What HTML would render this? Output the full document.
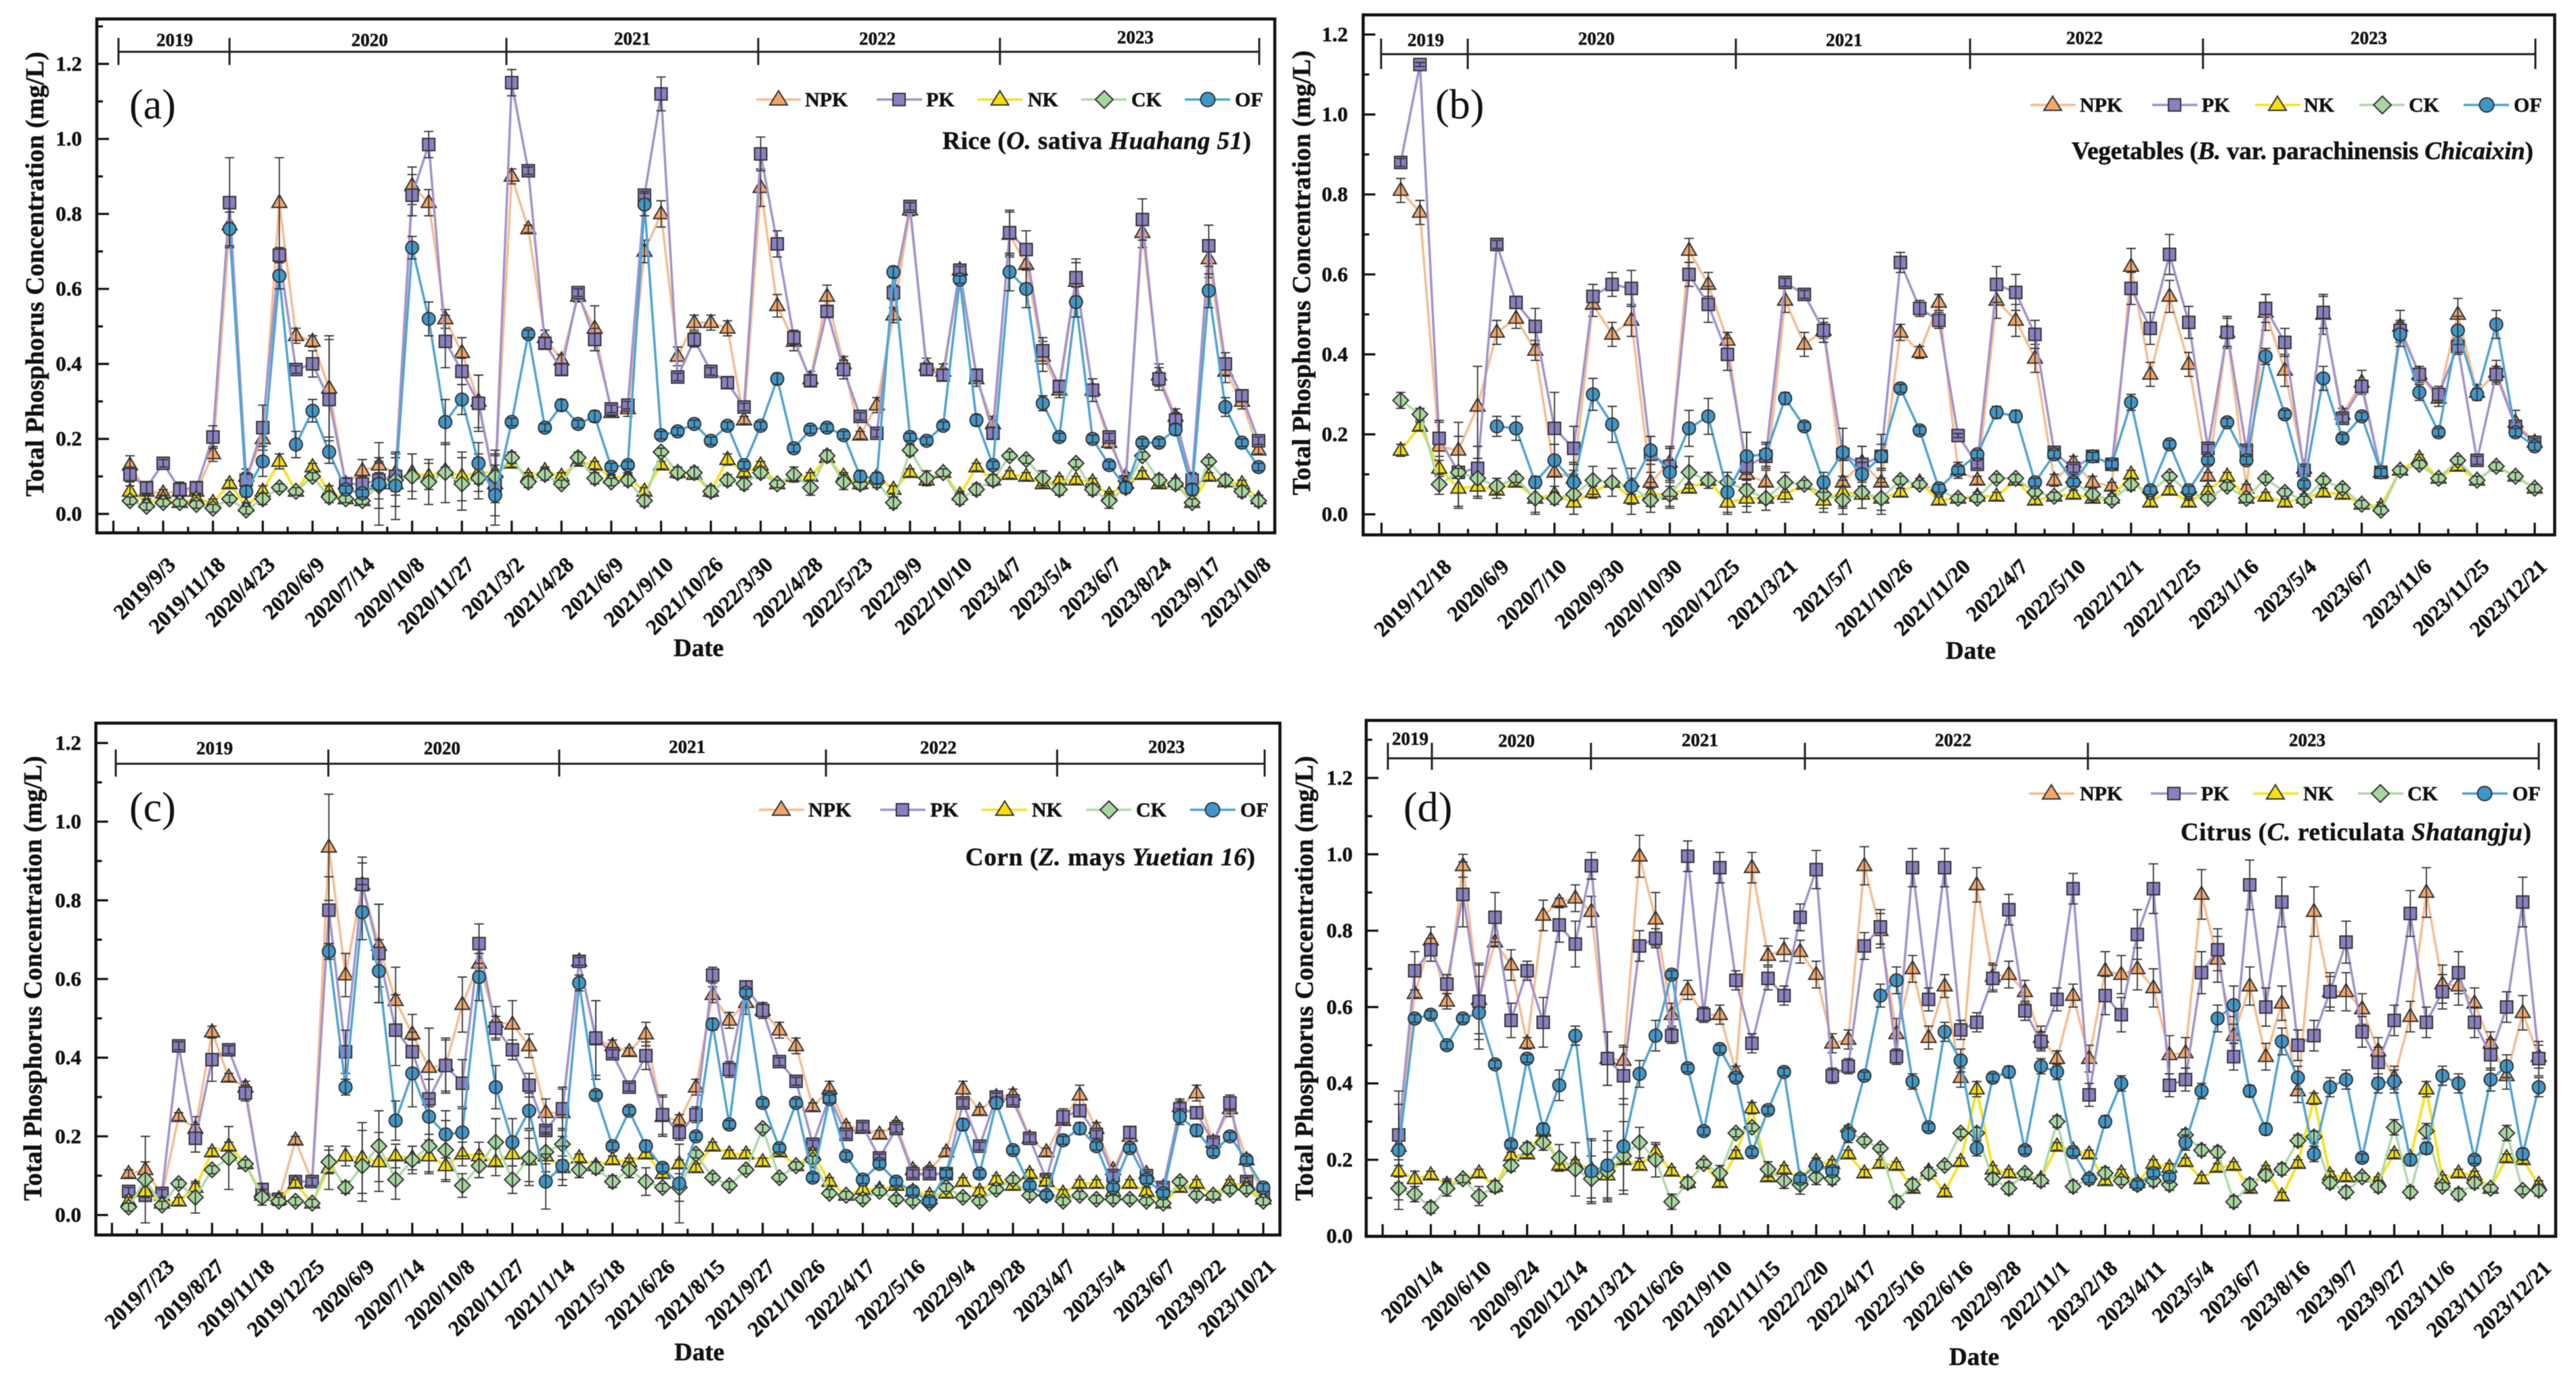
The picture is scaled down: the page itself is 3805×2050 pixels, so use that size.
<!DOCTYPE html>
<html lang="en">
<head>
<meta charset="utf-8">
<title>Total Phosphorus Concentration by Crop</title>
<style>
html,body{margin:0;padding:0;background:#fff;}
svg{display:block;filter:blur(.6px);}
text{font-family:"Liberation Serif",serif;font-weight:bold;fill:#111;stroke:#111;stroke-width:.5px;}
.ytitle{font-size:38px;text-anchor:middle;}
.xtitle{font-size:37px;text-anchor:middle;}
.year{font-size:27px;text-anchor:middle;dominant-baseline:middle;}
.leg{font-size:30px;}
.sub{font-size:37px;}
.plabel{font-size:62px;font-weight:normal;stroke:none;}
.br{stroke:#222;stroke-width:3;fill:none;}
.frame{fill:none;stroke:#111;stroke-width:4.5;}
.mk{stroke:#333;stroke-width:2;}
</style>
</head>
<body>
<svg id="fig" xmlns="http://www.w3.org/2000/svg" width="3805" height="2050" viewBox="0 0 3805 2050">
<rect width="3805" height="2050" fill="#fff"/>

<!-- PANEL A -->
<g id="panel-a">
<rect class="frame" x="143" y="28" width="1740" height="759"/>
<text class="ytitle" transform="translate(64 405) rotate(-90)" textLength="657">Total Phosphorus Concentration (mg/L)</text>
<text class="xtitle" x="1032" y="969">Date</text>
<text class="plabel" x="191" y="175">(a)</text>
<text class="sub" x="1392" y="220" textLength="456">Rice (<tspan font-style="italic">O.</tspan> sativa <tspan font-style="italic">Huahang 51</tspan>)</text>
<g>
<path class="br" d="M175 76.5H1860M175 56V96M339 56V96M748 56V96M1120 56V96M1477 56V96M1860 56V96"/>
<text class="year" x="258" y="62">2019</text>
<text class="year" x="546" y="62">2020</text>
<text class="year" x="934" y="60">2021</text>
<text class="year" x="1296" y="60">2022</text>
<text class="year" x="1677" y="58">2023</text>
</g>
<g id="plot-a"></g>
<g>
<g><path d="M1117 147H1183" stroke="#f6bd90" stroke-width="3.5"/><polygon class="mk" transform="translate(1150 147)" points="0,-13 13,8 -13,8" fill="#f3a668"/><text class="leg" x="1189" y="157">NPK</text></g>
<g><path d="M1295 147H1362" stroke="#a193cd" stroke-width="3.5"/><rect class="mk" x="1319" y="138" width="18" height="18" fill="#8a7fc1"/><text class="leg" x="1368" y="157">PK</text></g>
<g><path d="M1444 147H1510" stroke="#f7e22a" stroke-width="3.5"/><polygon class="mk" transform="translate(1477 147)" points="0,-13 13,8 -13,8" fill="#f6df0a"/><text class="leg" x="1518" y="157">NK</text></g>
<g><path d="M1597 147H1664" stroke="#aedaa8" stroke-width="3.5"/><polygon class="mk" transform="translate(1631 147)" points="0,-13 13,0 0,13 -13,0" fill="#a7d79f"/><text class="leg" x="1671" y="157">CK</text></g>
<g><path d="M1750 147H1817" stroke="#50a4d4" stroke-width="3.5"/><circle class="mk" cx="1784" cy="147" r="10.5" fill="#3f97c9"/><text class="leg" x="1824" y="157">OF</text></g>
</g>
</g>

<!-- PANEL B -->
<g id="panel-b">
<rect class="frame" x="2013.5" y="22" width="1760" height="768"/>
<text class="ytitle" transform="translate(1935 403) rotate(-90)" textLength="657">Total Phosphorus Concentration (mg/L)</text>
<text class="xtitle" x="2911" y="973">Date</text>
<text class="plabel" x="2120" y="175">(b)</text>
<text class="sub" x="3060" y="235" textLength="682">Vegetables (<tspan font-style="italic">B.</tspan> var. parachinensis <tspan font-style="italic">Chicaixin</tspan>)</text>
<g>
<path class="br" d="M2040 80H3745M2040 57V102M2168 57V102M2564 57V102M2910 57V102M3254 57V102M3745 57V102"/>
<text class="year" x="2106" y="62">2019</text>
<text class="year" x="2358" y="60">2020</text>
<text class="year" x="2724" y="62">2021</text>
<text class="year" x="3079" y="59">2022</text>
<text class="year" x="3499" y="59">2023</text>
</g>
<g id="plot-b"></g>
<g>
<g><path d="M2999 155H3066" stroke="#f6bd90" stroke-width="3.5"/><polygon class="mk" transform="translate(3032 155)" points="0,-13 13,8 -13,8" fill="#f3a668"/><text class="leg" x="3072" y="165">NPK</text></g>
<g><path d="M3179 155H3246" stroke="#a193cd" stroke-width="3.5"/><rect class="mk" x="3203" y="146" width="18" height="18" fill="#8a7fc1"/><text class="leg" x="3252" y="165">PK</text></g>
<g><path d="M3331 155H3398" stroke="#f7e22a" stroke-width="3.5"/><polygon class="mk" transform="translate(3364 155)" points="0,-13 13,8 -13,8" fill="#f6df0a"/><text class="leg" x="3403" y="165">NK</text></g>
<g><path d="M3485 155H3552" stroke="#aedaa8" stroke-width="3.5"/><polygon class="mk" transform="translate(3519 155)" points="0,-13 13,0 0,13 -13,0" fill="#a7d79f"/><text class="leg" x="3558" y="165">CK</text></g>
<g><path d="M3639 155H3706" stroke="#50a4d4" stroke-width="3.5"/><circle class="mk" cx="3673" cy="155" r="10.5" fill="#3f97c9"/><text class="leg" x="3713" y="165">OF</text></g>
</g>
</g>

<!-- PANEL C -->
<g id="panel-c">
<rect class="frame" x="141.6" y="1068" width="1749" height="756"/>
<text class="ytitle" transform="translate(61 1445) rotate(-90)" textLength="657">Total Phosphorus Concentration (mg/L)</text>
<text class="xtitle" x="1033" y="2009">Date</text>
<text class="plabel" x="191" y="1213">(c)</text>
<text class="sub" x="1426" y="1278" textLength="428">Corn (<tspan font-style="italic">Z.</tspan> mays <tspan font-style="italic">Yuetian 16</tspan>)</text>
<g>
<path class="br" d="M171 1128H1868M171 1107V1147M485 1107V1147M826 1107V1147M1220 1107V1147M1561.5 1107V1147M1868 1107V1147"/>
<text class="year" x="317" y="1108">2019</text>
<text class="year" x="653" y="1108">2020</text>
<text class="year" x="1015" y="1106">2021</text>
<text class="year" x="1386" y="1107">2022</text>
<text class="year" x="1723" y="1106">2023</text>
</g>
<g id="plot-c"></g>
<g>
<g><path d="M1121 1196H1188" stroke="#f6bd90" stroke-width="3.5"/><polygon class="mk" transform="translate(1154 1196)" points="0,-13 13,8 -13,8" fill="#f3a668"/><text class="leg" x="1194" y="1206">NPK</text></g>
<g><path d="M1300 1196H1367" stroke="#a193cd" stroke-width="3.5"/><rect class="mk" x="1324" y="1187" width="18" height="18" fill="#8a7fc1"/><text class="leg" x="1374" y="1206">PK</text></g>
<g><path d="M1450 1196H1517" stroke="#f7e22a" stroke-width="3.5"/><polygon class="mk" transform="translate(1484 1196)" points="0,-13 13,8 -13,8" fill="#f6df0a"/><text class="leg" x="1524" y="1206">NK</text></g>
<g><path d="M1605 1196H1671" stroke="#aedaa8" stroke-width="3.5"/><polygon class="mk" transform="translate(1638 1196)" points="0,-13 13,0 0,13 -13,0" fill="#a7d79f"/><text class="leg" x="1678" y="1206">CK</text></g>
<g><path d="M1758 1196H1825" stroke="#50a4d4" stroke-width="3.5"/><circle class="mk" cx="1791" cy="1196" r="10.5" fill="#3f97c9"/><text class="leg" x="1832" y="1206">OF</text></g>
</g>
</g>

<!-- PANEL D -->
<g id="panel-d">
<rect class="frame" x="2018" y="1064" width="1757" height="762"/>
<text class="ytitle" transform="translate(1939 1445) rotate(-90)" textLength="657">Total Phosphorus Concentration (mg/L)</text>
<text class="xtitle" x="2916" y="2016">Date</text>
<text class="plabel" x="2073" y="1213">(d)</text>
<text class="sub" x="3221" y="1241" textLength="518">Citrus (<tspan font-style="italic">C.</tspan> reticulata <tspan font-style="italic">Shatangju</tspan>)</text>
<g>
<path class="br" d="M2050 1120H3750M2050 1097V1137M2115 1097V1137M2350 1097V1137M2666 1097V1137M3084 1097V1137M3750 1097V1137"/>
<text class="year" x="2083" y="1094">2019</text>
<text class="year" x="2240" y="1097">2020</text>
<text class="year" x="2511" y="1096">2021</text>
<text class="year" x="2885" y="1096">2022</text>
<text class="year" x="3408" y="1096">2023</text>
</g>
<g id="plot-d"></g>
<g>
<g><path d="M2997 1172H3064" stroke="#f6bd90" stroke-width="3.5"/><polygon class="mk" transform="translate(3030 1172)" points="0,-13 13,8 -13,8" fill="#f3a668"/><text class="leg" x="3072" y="1182">NPK</text></g>
<g><path d="M3177 1172H3245" stroke="#a193cd" stroke-width="3.5"/><rect class="mk" x="3202" y="1163" width="18" height="18" fill="#8a7fc1"/><text class="leg" x="3251" y="1182">PK</text></g>
<g><path d="M3328 1172H3395" stroke="#f7e22a" stroke-width="3.5"/><polygon class="mk" transform="translate(3361 1172)" points="0,-13 13,8 -13,8" fill="#f6df0a"/><text class="leg" x="3402" y="1182">NK</text></g>
<g><path d="M3483 1172H3550" stroke="#aedaa8" stroke-width="3.5"/><polygon class="mk" transform="translate(3516 1172)" points="0,-13 13,0 0,13 -13,0" fill="#a7d79f"/><text class="leg" x="3556" y="1182">CK</text></g>
<g><path d="M3637 1172H3704" stroke="#50a4d4" stroke-width="3.5"/><circle class="mk" cx="3670" cy="1172" r="10.5" fill="#3f97c9"/><text class="leg" x="3711" y="1182">OF</text></g>
</g>
</g>
</svg>

<script>
// ---------- Panel (a) Rice ----------
const aDates = ["2019/9/3","2019/11/18","2020/4/23","2020/6/9","2020/7/14","2020/10/8","2020/11/27","2021/3/2","2021/4/28","2021/6/9","2021/9/10","2021/10/26","2022/3/30","2022/4/28","2022/5/23","2022/9/9","2022/10/10","2023/4/7","2023/5/4","2023/6/7","2023/8/24","2023/9/17","2023/10/8"];
const aNPK = [.13,.06,.055,.06,.06,.16,.77,.10,.20,.83,.475,.46,.335,.08,.115,.13,.11,.875,.83,.52,.43,.30,.08,.90,.76,.47,.41,.58,.495,.27,.28,.70,.80,.42,.51,.51,.495,.25,.87,.555,.46,.36,.58,.40,.21,.29,.53,.81,.395,.38,.65,.36,.24,.745,.665,.42,.33,.62,.33,.19,.10,.75,.37,.26,.08,.68,.38,.30,.17];
const aPK = [.105,.07,.135,.065,.07,.205,.83,.09,.23,.69,.385,.40,.305,.08,.08,.09,.10,.85,.985,.46,.38,.295,.075,1.15,.915,.455,.385,.59,.465,.28,.29,.85,1.12,.365,.465,.38,.35,.285,.96,.72,.47,.355,.54,.385,.26,.215,.59,.82,.385,.37,.65,.37,.215,.75,.705,.435,.34,.63,.33,.205,.085,.785,.36,.25,.09,.715,.40,.315,.195];
const aNK = [.06,.03,.04,.03,.04,.03,.08,.02,.06,.14,.06,.125,.06,.04,.035,.08,.08,.11,.10,.115,.10,.11,.11,.135,.10,.115,.10,.14,.13,.095,.10,.06,.13,.11,.105,.06,.145,.11,.13,.08,.10,.10,.15,.10,.08,.10,.065,.11,.09,.11,.05,.125,.09,.105,.10,.08,.09,.09,.085,.05,.08,.105,.08,.085,.03,.10,.085,.08,.04];
const aCK = [.035,.02,.03,.03,.025,.015,.04,.01,.04,.07,.06,.10,.045,.04,.035,.075,.09,.10,.085,.11,.08,.095,.10,.15,.085,.105,.08,.15,.095,.085,.09,.035,.165,.11,.11,.06,.09,.08,.11,.08,.105,.07,.155,.085,.08,.085,.03,.17,.095,.11,.04,.065,.09,.155,.145,.095,.065,.135,.065,.035,.07,.155,.09,.08,.03,.14,.09,.06,.035];
const aOF = [null,null,null,null,null,null,.76,.06,.14,.635,.185,.275,.165,.065,.055,.08,.075,.71,.52,.245,.305,.135,.05,.245,.48,.23,.29,.24,.26,.125,.13,.825,.21,.22,.24,.195,.235,.13,.235,.36,.175,.225,.23,.21,.10,.095,.645,.205,.195,.235,.625,.25,.13,.645,.60,.295,.205,.565,.20,.13,.07,.19,.19,.225,.065,.595,.285,.19,.125];
const aNPKerr = [.025,.01,.01,.01,.01,.02,.06,.02,.03,.12,.02,.015,.13,.015,.03,.02,.05,.05,.035,.025,.04,.07,.03,.02,.01,.02,.015,.015,.06,.01,.02,.03,.035,.025,.02,.02,.02,.01,.05,.03,.025,.02,.03,.02,.01,.02,.02,.015,.02,.02,.01,.02,.02,.06,.05,.04,.02,.05,.03,.015,.01,.04,.03,.02,.01,.05,.03,.02,.01];
const aPKerr = [.02,.015,.01,.02,.015,.03,.12,.02,.06,.02,.01,.035,.17,.015,.02,.05,.05,.055,.035,.07,.035,.075,.08,.035,.01,.015,.015,.01,.03,.01,.01,.01,.045,.01,.02,.01,.015,.01,.045,.035,.02,.015,.015,.025,.01,.01,.02,.01,.015,.015,.01,.015,.015,.06,.05,.035,.015,.05,.03,.01,.01,.055,.03,.02,.02,.055,.03,.015,.01];
const aNKerr = [.015,.01,.01,.01,.01,.01,.01,.01,.015,.02,.01,.01,.015,.01,.01,.01,.01,.05,.035,.01,.065,.05,.05,.01,.01,.01,.01,.01,.01,.01,.01,.01,.01,.01,.01,.01,.015,.01,.01,.01,.01,.01,.01,.01,.01,.01,.01,.01,.01,.01,.01,.01,.01,.01,.01,.01,.01,.01,.01,.01,.01,.01,.01,.01,.01,.01,.01,.01,.01];
const aCKerr = [.01,.01,.01,.01,.01,.01,.01,.01,.015,.01,.01,.01,.015,.01,.01,.06,.07,.06,.06,.08,.07,.055,.07,.015,.015,.015,.01,.015,.015,.01,.015,.015,.01,.015,.015,.015,.015,.015,.015,.01,.02,.02,.015,.02,.015,.015,.015,.015,.02,.01,.015,.015,.015,.01,.01,.02,.015,.01,.015,.02,.015,.01,.015,.015,.01,.01,.015,.015,.015];
const aOFerr = [0,0,0,0,0,0,.045,.015,.04,.035,.035,.03,.03,.01,.01,.11,.09,.03,.045,.06,.04,.055,.08,.01,.01,.01,.015,.01,.015,.01,.01,.03,.01,.01,.01,.01,.01,.01,.01,.015,.01,.01,.01,.01,.015,.015,.015,.01,.01,.01,.01,.015,.01,.05,.05,.02,.01,.04,.01,.01,.015,.01,.01,.015,.015,.045,.025,.01,.01];

// ---------- Panel (b) Vegetables ----------
const bDates = ["2019/12/18","2020/6/9","2020/7/10","2020/9/30","2020/10/30","2020/12/25","2021/3/21","2021/5/7","2021/10/26","2021/11/20","2022/4/7","2022/5/10","2022/12/1","2022/12/25","2023/1/16","2023/5/4","2023/6/7","2023/11/6","2023/11/25","2023/12/21"];
const bNPK = [.81,.755,.17,.16,.27,.455,.49,.41,.105,.09,.525,.45,.485,.08,.13,.66,.575,.435,.10,.08,.535,.425,.46,.08,.13,.08,.455,.405,.53,.11,.085,.535,.485,.39,.085,.13,.08,.07,.62,.35,.545,.375,.095,.455,.065,.505,.36,.115,.50,.25,.33,.105,.47,.35,.29,.50,.305,.355,.23,.18];
const bPK = [.88,1.125,.19,.105,.115,.675,.53,.47,.215,.165,.545,.575,.565,.15,.12,.60,.525,.40,.12,.145,.58,.55,.46,.15,.125,.145,.63,.515,.485,.197,.125,.575,.555,.45,.155,.115,.145,.125,.565,.465,.65,.48,.165,.455,.16,.515,.43,.11,.505,.24,.32,.105,.46,.35,.30,.42,.135,.35,.22,.18];
const bNK = [.16,.22,.115,.065,.07,.06,.08,.04,.05,.03,.055,.08,.04,.05,.05,.065,.085,.03,.04,.04,.05,.075,.035,.055,.05,.04,.055,.08,.035,.04,.045,.045,.085,.035,.045,.05,.04,.04,.10,.03,.06,.03,.06,.095,.04,.045,.03,.04,.055,.05,.025,.02,.11,.14,.09,.12,.085,.12,.095,.065];
const bCK = [.285,.25,.075,.105,.09,.07,.09,.04,.04,.05,.085,.08,.07,.035,.05,.105,.085,.08,.06,.04,.08,.075,.05,.035,.055,.04,.085,.075,.06,.04,.04,.09,.09,.055,.045,.08,.05,.035,.075,.055,.095,.055,.04,.07,.04,.09,.055,.035,.085,.065,.025,.01,.11,.125,.09,.135,.085,.12,.095,.065];
const bOF = [null,null,null,null,null,.22,.215,.08,.135,.08,.30,.225,.07,.16,.105,.215,.245,.055,.145,.15,.29,.22,.08,.155,.10,.145,.315,.21,.065,.11,.15,.255,.245,.08,.15,.08,.145,.125,.28,.06,.175,.06,.135,.23,.135,.395,.25,.075,.34,.19,.245,.105,.45,.305,.205,.46,.30,.475,.205,.17];
const bNPKerr = [.03,.03,.06,.07,.10,.03,.025,.025,.07,.04,.03,.03,.04,.06,.035,.03,.03,.02,.03,.03,.03,.03,.02,.06,.04,.03,.02,.015,.02,.02,.01,.045,.04,.035,.015,.015,.015,.01,.045,.03,.04,.03,.01,.04,.01,.045,.04,.01,.05,.015,.03,.01,.04,.015,.02,.04,.02,.03,.03,.01];
const bPKerr = [.01,.005,.045,.09,.055,.01,.015,.045,.09,.055,.03,.03,.045,.045,.05,.03,.045,.04,.085,.03,.01,.01,.03,.065,.045,.055,.025,.02,.02,.005,.01,.045,.045,.035,.01,.01,.01,.01,.04,.04,.05,.04,.01,.035,.01,.035,.035,.01,.04,.01,.015,.01,.025,.02,.02,.02,.01,.02,.01,.01];
const bNKerr = [.015,.01,.02,.045,.025,.02,.01,.035,.02,.03,.015,.01,.04,.03,.03,.01,.01,.03,.035,.01,.02,.01,.03,.04,.035,.03,.01,.01,.01,.01,.01,.01,.01,.01,.01,.01,.01,.01,.01,.01,.01,.01,.01,.01,.01,.01,.01,.01,.01,.01,.01,.01,.01,.01,.01,.01,.01,.01,.01,.01];
const bCKerr = [.02,.015,.025,.01,.05,.02,.01,.04,.015,.05,.035,.035,.02,.03,.035,.04,.02,.025,.04,.03,.025,.01,.035,.035,.04,.04,.01,.01,.01,.01,.01,.01,.01,.01,.01,.01,.015,.01,.015,.01,.01,.02,.01,.01,.01,.01,.01,.01,.01,.01,.01,.01,.01,.01,.01,.01,.01,.01,.01,.01];
const bOFerr = [0,0,0,0,0,.025,.03,.015,.04,.045,.04,.045,.045,.035,.06,.045,.045,.05,.06,.03,.015,.01,.025,.06,.03,.03,.01,.01,.01,.01,.01,.015,.015,.01,.01,.01,.01,.01,.02,.01,.01,.01,.01,.01,.01,.02,.01,.01,.03,.01,.01,.01,.03,.02,.01,.035,.015,.035,.01,.01];

// ---------- Panel (c) Corn ----------
const cDates = ["2019/7/23","2019/8/27","2019/11/18","2019/12/25","2020/6/9","2020/7/14","2020/10/8","2020/11/27","2021/1/14","2021/5/18","2021/6/26","2021/8/15","2021/9/27","2021/10/26","2022/4/17","2022/5/16","2022/9/4","2022/9/28","2023/4/7","2023/5/4","2023/6/7","2023/9/22","2023/10/21"];
const cNPK = [.105,.115,.05,.25,.22,.465,.35,.325,.06,.04,.19,.085,.935,.61,.84,.685,.545,.46,.375,.38,.535,.64,.49,.485,.43,.26,.26,.645,.445,.43,.415,.46,.25,.24,.325,.56,.495,.54,.52,.47,.43,.275,.32,.225,.22,.205,.23,.115,.115,.16,.32,.265,.30,.305,.195,.16,.24,.305,.22,.115,.20,.105,.07,.275,.31,.185,.27,.14,.05];
const cPK = [.06,.05,.055,.43,.195,.395,.42,.31,.065,.04,.085,.085,.775,.415,.84,.665,.47,.415,.295,.38,.335,.69,.475,.42,.33,.215,.27,.645,.45,.41,.325,.405,.255,.21,.255,.61,.37,.58,.52,.39,.34,.18,.30,.205,.225,.145,.22,.105,.105,.105,.285,.175,.30,.29,.195,.09,.25,.265,.205,.10,.21,.10,.07,.27,.26,.185,.285,.085,.05];
const cNK = [.035,.06,.03,.035,.07,.16,.175,.13,.05,.04,.08,.03,.12,.15,.145,.135,.15,.145,.15,.125,.155,.15,.135,.155,.14,.15,.12,.145,.125,.14,.135,.155,.105,.13,.12,.175,.155,.155,.135,.16,.125,.155,.085,.05,.065,.065,.075,.06,.05,.055,.085,.06,.09,.075,.105,.085,.055,.08,.08,.06,.08,.06,.03,.07,.08,.05,.08,.075,.04];
const cCK = [.02,.09,.025,.08,.045,.115,.145,.13,.045,.035,.035,.03,.135,.07,.125,.175,.09,.14,.175,.165,.075,.125,.185,.09,.145,.16,.18,.115,.12,.085,.115,.085,.07,.07,.155,.095,.075,.115,.22,.095,.125,.14,.055,.05,.04,.06,.04,.035,.03,.07,.045,.035,.065,.09,.05,.05,.035,.05,.04,.04,.04,.035,.03,.085,.05,.05,.065,.065,.035];
const cOF = [null,null,null,null,null,null,null,null,null,null,null,null,.67,.325,.77,.62,.24,.36,.25,.205,.21,.605,.325,.185,.265,.085,.125,.59,.305,.175,.265,.175,.12,.08,.20,.485,.23,.565,.285,.17,.285,.095,.295,.15,.09,.13,.085,.06,.035,.105,.23,.105,.285,.165,.075,.05,.19,.22,.175,.07,.17,.09,.055,.25,.215,.16,.20,.14,.07];
const cNPKerr = [.01,.02,.01,.01,.03,.015,.01,.015,.02,.01,.01,.01,.135,.055,.07,.105,.085,.05,.10,.07,.07,.035,.04,.06,.03,.035,.06,.01,.10,.015,.01,.03,.05,.015,.02,.02,.02,.03,.02,.02,.02,.01,.02,.01,.01,.01,.01,.01,.01,.01,.02,.01,.015,.015,.01,.01,.01,.025,.015,.01,.015,.01,.01,.02,.02,.01,.02,.01,.01];
const cPKerr = [.01,.015,.01,.01,.035,.055,.01,.02,.015,.01,.01,.01,.085,.055,.055,.125,.09,.05,.05,.065,.06,.05,.03,.025,.03,.01,.055,.01,.095,.01,.01,.035,.05,.02,.02,.02,.02,.015,.02,.01,.01,.01,.01,.01,.01,.01,.01,.01,.01,.01,.01,.01,.01,.01,.01,.01,.02,.015,.01,.01,.015,.01,.01,.02,.015,.01,.02,.01,.01];
const cNKerr = [.01,.015,.01,.01,.01,.01,.01,.01,.015,.01,.01,.01,.055,.025,.09,.075,.03,.03,.04,.04,.03,.035,.035,.03,.055,.02,.03,.01,.01,.01,.01,.01,.01,.01,.01,.01,.01,.01,.01,.01,.01,.01,.01,.01,.01,.01,.01,.01,.01,.01,.01,.01,.01,.01,.01,.01,.01,.01,.01,.01,.01,.01,.01,.01,.01,.01,.01,.01,.01];
const cCKerr = [.01,.11,.01,.01,.04,.01,.08,.01,.02,.01,.01,.01,.03,.015,.09,.09,.05,.035,.07,.075,.03,.03,.06,.035,.07,.05,.04,.02,.015,.015,.02,.035,.01,.035,.01,.01,.01,.01,.01,.01,.01,.01,.01,.01,.01,.01,.01,.01,.01,.01,.01,.01,.01,.01,.01,.01,.01,.01,.01,.01,.01,.01,.01,.01,.01,.01,.01,.01,.01];
const cOFerr = [0,0,0,0,0,0,0,0,0,0,0,0,.02,.02,.07,.08,.05,.085,.045,.06,.06,.06,.055,.06,.045,.07,.05,.02,.01,.01,.01,.015,.01,.10,.01,.015,.01,.01,.01,.01,.01,.01,.01,.01,.01,.01,.01,.01,.01,.01,.015,.01,.015,.01,.01,.01,.01,.015,.01,.01,.01,.01,.01,.02,.015,.01,.01,.01,.01];

// ---------- Panel (d) Citrus ----------
const dDates = ["2020/1/4","2020/6/10","2020/9/24","2020/12/14","2021/3/21","2021/6/26","2021/9/10","2021/11/15","2022/2/20","2022/4/17","2022/5/16","2022/6/16","2022/9/28","2022/11/1","2023/2/18","2023/4/11","2023/5/4","2023/6/7","2023/8/16","2023/9/7","2023/9/27","2023/11/6","2023/11/25","2023/12/21"];
const dNPK = [.235,.635,.775,.615,.97,.62,.77,.71,.505,.84,.875,.885,.85,.465,.46,.995,.83,.58,.645,.58,.58,.43,.965,.735,.75,.745,.685,.505,.515,.97,.80,.53,.70,.52,.655,.415,.92,.68,.685,.64,.52,.465,.63,.465,.695,.685,.70,.65,.475,.48,.895,.725,.525,.655,.47,.61,.38,.85,.64,.64,.595,.485,.415,.575,.90,.66,.655,.61,.505,.42,.585,.47];
const dPK = [.265,.695,.75,.66,.895,.615,.835,.565,.695,.56,.815,.765,.97,.465,.42,.76,.78,.525,.995,.58,.965,.67,.505,.675,.63,.835,.96,.42,.445,.76,.81,.47,.965,.62,.965,.54,.56,.675,.855,.59,.51,.62,.91,.37,.63,.58,.79,.91,.395,.41,.69,.75,.47,.92,.60,.875,.50,.525,.64,.77,.535,.455,.565,.845,.56,.64,.69,.56,.475,.60,.875,.465];
const dNK = [.17,.15,.16,.135,.15,.165,.13,.21,.215,.275,.185,.19,.175,.16,.20,.185,.22,.17,.14,.19,.14,.215,.335,.155,.175,.15,.195,.19,.215,.165,.19,.185,.125,.17,.115,.195,.385,.175,.165,.16,.15,.235,.225,.215,.145,.165,.14,.19,.18,.195,.15,.18,.185,.125,.175,.105,.19,.36,.16,.155,.155,.145,.215,.205,.385,.15,.165,.16,.125,.205,.20,.135];
const dCK = [.125,.11,.075,.125,.15,.105,.13,.185,.23,.245,.205,.175,.15,.17,.21,.245,.20,.09,.14,.19,.165,.27,.285,.175,.145,.135,.155,.15,.275,.25,.23,.09,.135,.165,.185,.27,.27,.15,.125,.165,.145,.30,.13,.15,.165,.145,.135,.145,.135,.265,.225,.22,.09,.135,.16,.175,.25,.26,.14,.115,.155,.13,.285,.115,.275,.13,.11,.14,.125,.27,.12,.12];
const dOF = [.225,.57,.58,.50,.57,.585,.45,.24,.465,.28,.395,.525,.17,.185,.235,.425,.525,.685,.44,.275,.49,.415,.22,.33,.43,.15,.185,.17,.265,.42,.63,.67,.405,.285,.535,.46,.23,.415,.43,.225,.445,.43,.22,.15,.30,.40,.135,.165,.155,.245,.38,.57,.605,.38,.28,.51,.415,.215,.39,.41,.205,.40,.405,.20,.23,.42,.40,.20,.41,.445,.215,.39];
const dNPKerr = [.11,.01,.035,.02,.03,.09,.01,.04,.015,.04,.01,.035,.04,.07,.04,.055,.07,.03,.025,.02,.025,.015,.04,.025,.03,.03,.035,.025,.025,.05,.045,.04,.035,.03,.03,.025,.045,.035,.035,.03,.03,.02,.03,.035,.05,.05,.055,.05,.05,.04,.065,.06,.05,.05,.035,.045,.03,.065,.05,.05,.04,.035,.03,.04,.065,.05,.05,.04,.03,.035,.045,.03];
const dPKerr = [.08,.05,.03,.025,.085,.10,.065,.045,.025,.065,.045,.06,.035,.07,.075,.04,.025,.02,.04,.02,.04,.025,.025,.03,.025,.035,.05,.02,.02,.035,.045,.02,.05,.03,.05,.025,.025,.035,.04,.025,.025,.03,.04,.03,.05,.045,.065,.065,.03,.03,.055,.055,.035,.065,.05,.065,.04,.04,.04,.055,.04,.04,.04,.06,.04,.045,.055,.04,.04,.04,.065,.045];
const dNKerr = [.03,.02,.01,.015,.01,.01,.015,.01,.01,.015,.01,.01,.075,.06,.01,.01,.02,.01,.01,.01,.01,.01,.015,.01,.01,.01,.01,.01,.01,.01,.01,.01,.01,.01,.01,.01,.02,.01,.01,.01,.01,.01,.01,.01,.01,.01,.01,.01,.01,.01,.01,.01,.01,.01,.01,.01,.01,.015,.01,.01,.01,.01,.01,.01,.02,.01,.01,.01,.01,.01,.01,.01];
const dCKerr = [.03,.02,.015,.02,.01,.025,.015,.015,.015,.02,.035,.07,.06,.08,.09,.04,.045,.02,.015,.01,.02,.01,.01,.02,.02,.025,.02,.015,.015,.01,.01,.015,.015,.015,.01,.01,.015,.015,.015,.01,.015,.015,.015,.015,.015,.01,.015,.015,.015,.015,.015,.015,.015,.015,.015,.015,.015,.015,.015,.015,.01,.015,.02,.015,.02,.01,.015,.015,.01,.02,.01,.015];
const dOFerr = [.155,.01,.01,.01,.01,.095,.01,.01,.01,.015,.04,.025,.085,.09,.125,.035,.04,.01,.01,.01,.01,.01,.01,.01,.01,.01,.02,.01,.02,.01,.03,.035,.02,.01,.025,.03,.02,.01,.015,.01,.02,.02,.01,.01,.015,.02,.01,.01,.01,.02,.02,.035,.05,.015,.015,.035,.03,.02,.025,.025,.01,.025,.03,.015,.015,.025,.025,.01,.03,.03,.015,.025];

const yTickValues = [0, 0.2, 0.4, 0.6, 0.8, 1.0, 1.2];
const seriesNames = ["NPK", "PK", "NK", "CK", "OF"];
const lineColors = {NPK:"#f6bd90", PK:"#a193cd", NK:"#f7e22a", CK:"#aedaa8", OF:"#50a4d4"};
const fillColors = {NPK:"#f3a668", PK:"#8a7fc1", NK:"#f6df0a", CK:"#a7d79f", OF:"#3f97c9"};

const panels = [
 {id:"a", frame:{l:143,t:28,r:1883,b:787}, x0:192, xn:1859, y0:759, y12:94.4, labelRight:121, dates:aDates,
  vals:[aNPK,aPK,aNK,aCK,aOF], errs:[aNPKerr,aPKerr,aNKerr,aCKerr,aOFerr], yMinorMax:1.3},
 {id:"b", frame:{l:2013.5,t:22,r:3773.5,b:790}, x0:2069, xn:3744, y0:759.6, y12:51, labelRight:1991, dates:bDates,
  vals:[bNPK,bPK,bNK,bCK,bOF], errs:[bNPKerr,bPKerr,bNKerr,bCKerr,bOFerr], yMinorMax:1.1},
 {id:"c", frame:{l:141.6,t:1068,r:1890.6,b:1824}, x0:190, xn:1866, y0:1794.5, y12:1097.4, labelRight:120, dates:cDates,
  vals:[cNPK,cPK,cNK,cCK,cOF], errs:[cNPKerr,cPKerr,cNKerr,cCKerr,cOFerr], yMinorMax:1.1},
 {id:"d", frame:{l:2018,t:1064,r:3775,b:1826}, x0:2066, xn:3750, y0:1825.7, y12:1149, labelRight:1998, dates:dDates,
  vals:[dNPK,dPK,dNK,dCK,dOF], errs:[dNPKerr,dPKerr,dNKerr,dCKerr,dOFerr], yMinorMax:1.3}
];

const NS = "http://www.w3.org/2000/svg";
function svgEl(tag, attrs, parent){
  const e = document.createElementNS(NS, tag);
  for (const k in attrs) e.setAttribute(k, attrs[k]);
  parent.appendChild(e);
  return e;
}
function markerShape(name, cx, cy, parent){
  const st = {fill: fillColors[name], stroke:"#333", "stroke-width":2};
  if (name === "PK") return svgEl("rect", Object.assign({x:cx-9, y:cy-9, width:18, height:18}, st), parent);
  if (name === "OF") return svgEl("circle", Object.assign({cx:cx, cy:cy, r:9.5}, st), parent);
  if (name === "CK") return svgEl("polygon", Object.assign({points:`${cx},${cy-11.5} ${cx+11.5},${cy} ${cx},${cy+11.5} ${cx-11.5},${cy}`}, st), parent);
  return svgEl("polygon", Object.assign({points:`${cx},${cy-12} ${cx+11},${cy+7} ${cx-11},${cy+7}`}, st), parent);
}

panels.forEach(function(p){
  const root = document.getElementById("plot-" + p.id);
  const n = p.vals[0].length;
  const xScale = function(i){ return p.x0 + (p.xn - p.x0) * i / (n - 1); };
  const yScale = function(v){ return p.y0 - (p.y0 - p.y12) * v / 1.2; };

  // x ticks: major every 3 points, minor halfway, starting one point left of the first
  const xAxis = svgEl("g", {}, root);
  
  
  for (let k = 0, i = -1; i <= n - 1 + 0.01; k++, i += 1.5) {
    const major = k % 2 === 0;
    const tick = svgEl("line", {x1:xScale(i), x2:xScale(i), y1:p.frame.b, y2:p.frame.b - (major ? 18 : 9), stroke:"#111", "stroke-width":3.2}, xAxis);
    
    
  }
  p.dates.forEach(function(d, j){
    const bx = xScale(2 + j * 3) + 20;
    const by = p.frame.b + 49;
    const lab = svgEl("text", {x:bx, y:by, "text-anchor":"end", "font-size":32, transform:`rotate(-45 ${bx} ${by})`}, xAxis);
    lab.textContent = d;
    
    
  });

  // y ticks
  const yAxis = svgEl("g", {}, root);
  
  
  yTickValues.forEach(function(v){
    const tick = svgEl("line", {x1:p.frame.l, x2:p.frame.l + 18, y1:yScale(v), y2:yScale(v), stroke:"#111", "stroke-width":3.2}, yAxis);
    
    
    const lab = svgEl("text", {x:p.labelRight, y:yScale(v) + 10, "text-anchor":"end", "font-size":31}, yAxis);
    lab.textContent = v.toFixed(1);
    
    
  });
  for (let v = 0.1; v <= p.yMinorMax + 0.001; v += 0.2) {
    const tick = svgEl("line", {x1:p.frame.l, x2:p.frame.l + 9, y1:yScale(v), y2:yScale(v), stroke:"#111", "stroke-width":3.2}, yAxis);
    
    
  }

  // series
  seriesNames.forEach(function(name, s){
    const vals = p.vals[s];
    const errs = p.errs[s];
    const g = svgEl("g", {}, root);
    
    
    const pts = [];
    vals.forEach(function(v, i){ if (v !== null) pts.push(xScale(i).toFixed(1) + "," + yScale(v).toFixed(1)); });
    const line = svgEl("polyline", {points:pts.join(" "), fill:"none", stroke:lineColors[name], "stroke-width":name === "NK" ? 4 : 3.5, "stroke-linejoin":"round"}, g);
    
    
    vals.forEach(function(v, i){
      if (v === null) return;
      const cx = xScale(i);
      const cy = yScale(v);
      const m = markerShape(name, cx, cy, g);
      
      
      const e = errs[i] || 0;
      if (e > 0) {
        const top = yScale(v + e);
        const bot = yScale(v - e);
        const eb = svgEl("path", {d:`M${cx} ${top}V${bot}M${cx-7} ${top}H${cx+7}M${cx-7} ${bot}H${cx+7}`, stroke:"#333", "stroke-width":1.8, fill:"none"}, g);
        
        
      }
    });
  });
});
</script>
</body>
</html>
